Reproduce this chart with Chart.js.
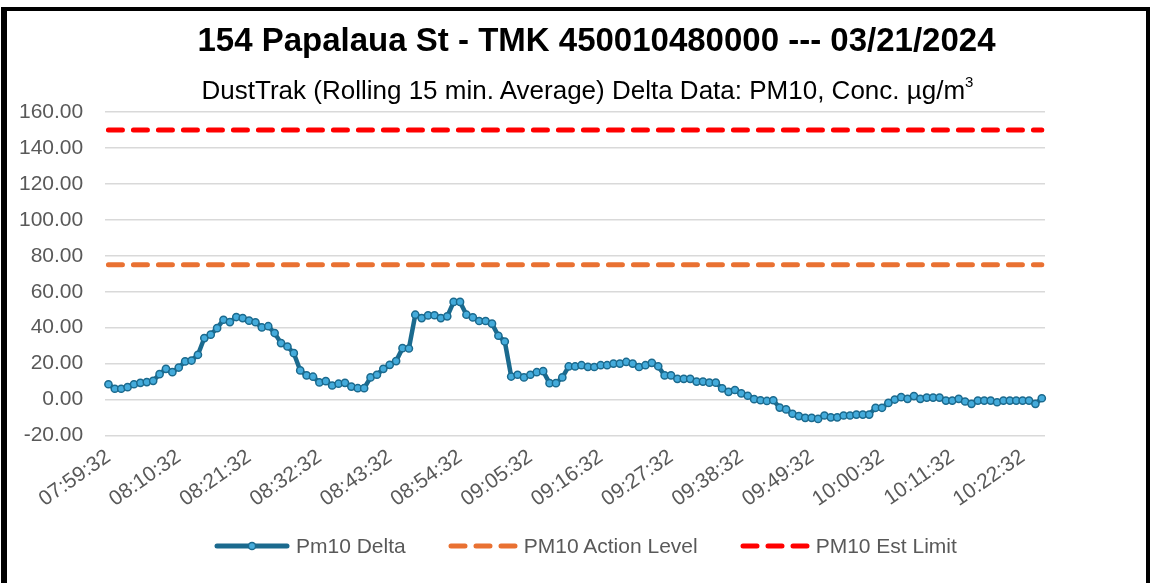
<!DOCTYPE html>
<html>
<head>
<meta charset="utf-8">
<script src="https://cdn.jsdelivr.net/npm/chart.js@4.4.1/dist/chart.umd.min.js"></script>
<style>
  body { margin: 0; width: 1153px; height: 583px; overflow: hidden; background: #fff; position: relative; }
  #frame { position: absolute; left: 1px; top: 7px; width: 1139px; height: 600px;
           border-left: 6px solid #000; border-top: 4px solid #000; border-right: 4px solid #000; }
  #chart-wrap { position: absolute; left: 0; top: 0; width: 1153px; height: 583px; }
  .txt { position: absolute; left: 0; width: 1153px; text-align: center; color: #000;
         font-family: 'Liberation Sans', Arial, sans-serif; white-space: nowrap; }
  #title { top: 21px; left: 20px; font-size: 33px; font-weight: bold; }
  #subtitle { top: 75px; left: 11px; font-size: 26px; }
  #subtitle sup { font-size: 15px; vertical-align: 12px; line-height: 0; }
  #legend { position: absolute; top: 534px; left: 214px; display: flex; align-items: center;
            font-family: 'Liberation Sans', Arial, sans-serif; font-size: 21px; color: #595959; }
  .item { display: flex; align-items: center; margin-right: 42px; }
  .item svg { margin-right: 6px; }
</style>
</head>
<body>
<div id="frame"></div>
<div id="chart-wrap"><canvas id="chart" width="1153" height="583"></canvas></div>
<div class="txt" id="title">154 Papalaua St - TMK 450010480000 --- 03/21/2024</div>
<div class="txt" id="subtitle">DustTrak (Rolling 15 min. Average) Delta Data: PM10, Conc. µg/m<sup>3</sup></div>
<div id="legend">
  <div class="item">
    <svg width="76" height="14"><line x1="3" y1="7" x2="73" y2="7" stroke="#1B6A8E" stroke-width="5" stroke-linecap="round"/>
      <circle cx="38" cy="7" r="3.6" fill="#44ABDB" stroke="#1B6A8E" stroke-width="1.5"/></svg>
    <span>Pm10 Delta</span>
  </div>
  <div class="item">
    <svg width="70" height="14"><line x1="3" y1="7" x2="67" y2="7" stroke="#E97132" stroke-width="5" stroke-linecap="round" stroke-dasharray="14 11"/></svg>
    <span>PM10 Action Level</span>
  </div>
  <div class="item">
    <svg width="70" height="14"><line x1="3" y1="7" x2="67" y2="7" stroke="#FF0000" stroke-width="5" stroke-linecap="round" stroke-dasharray="14 11"/></svg>
    <span>PM10 Est Limit</span>
  </div>
</div>

<script>
// one reading per minute
const times = [
  '07:59:32', '08:00:32', '08:01:32', '08:02:32', '08:03:32', '08:04:32', '08:05:32', '08:06:32', '08:07:32', '08:08:32',
  '08:09:32', '08:10:32', '08:11:32', '08:12:32', '08:13:32', '08:14:32', '08:15:32', '08:16:32', '08:17:32', '08:18:32',
  '08:19:32', '08:20:32', '08:21:32', '08:22:32', '08:23:32', '08:24:32', '08:25:32', '08:26:32', '08:27:32', '08:28:32',
  '08:29:32', '08:30:32', '08:31:32', '08:32:32', '08:33:32', '08:34:32', '08:35:32', '08:36:32', '08:37:32', '08:38:32',
  '08:39:32', '08:40:32', '08:41:32', '08:42:32', '08:43:32', '08:44:32', '08:45:32', '08:46:32', '08:47:32', '08:48:32',
  '08:49:32', '08:50:32', '08:51:32', '08:52:32', '08:53:32', '08:54:32', '08:55:32', '08:56:32', '08:57:32', '08:58:32',
  '08:59:32', '09:00:32', '09:01:32', '09:02:32', '09:03:32', '09:04:32', '09:05:32', '09:06:32', '09:07:32', '09:08:32',
  '09:09:32', '09:10:32', '09:11:32', '09:12:32', '09:13:32', '09:14:32', '09:15:32', '09:16:32', '09:17:32', '09:18:32',
  '09:19:32', '09:20:32', '09:21:32', '09:22:32', '09:23:32', '09:24:32', '09:25:32', '09:26:32', '09:27:32', '09:28:32',
  '09:29:32', '09:30:32', '09:31:32', '09:32:32', '09:33:32', '09:34:32', '09:35:32', '09:36:32', '09:37:32', '09:38:32',
  '09:39:32', '09:40:32', '09:41:32', '09:42:32', '09:43:32', '09:44:32', '09:45:32', '09:46:32', '09:47:32', '09:48:32',
  '09:49:32', '09:50:32', '09:51:32', '09:52:32', '09:53:32', '09:54:32', '09:55:32', '09:56:32', '09:57:32', '09:58:32',
  '09:59:32', '10:00:32', '10:01:32', '10:02:32', '10:03:32', '10:04:32', '10:05:32', '10:06:32', '10:07:32', '10:08:32',
  '10:09:32', '10:10:32', '10:11:32', '10:12:32', '10:13:32', '10:14:32', '10:15:32', '10:16:32', '10:17:32', '10:18:32',
  '10:19:32', '10:20:32', '10:21:32', '10:22:32', '10:23:32', '10:24:32', '10:25:32'
];

const pm10Delta = [
  8.5, 6.0, 6.0, 6.9, 8.5, 9.3, 9.7, 10.4, 14.1, 17.1,
  15.2, 17.8, 21.2, 21.7, 24.9, 34.2, 36.1, 39.7, 44.4, 43.1,
  45.9, 45.3, 43.9, 43.0, 40.1, 40.8, 37.0, 31.4, 29.5, 25.8,
  16.2, 13.4, 12.7, 9.5, 10.2, 7.8, 8.8, 9.3, 7.2, 6.3,
  6.3, 12.3, 13.8, 17.1, 19.3, 21.4, 28.6, 28.4, 47.2, 45.3,
  46.8, 46.9, 45.3, 46.3, 54.3, 54.3, 47.2, 45.7, 43.7, 43.7,
  42.2, 35.5, 32.3, 12.8, 13.8, 12.3, 13.8, 15.2, 15.8, 9.1,
  9.1, 12.3, 18.4, 18.4, 19.1, 18.2, 18.1, 19.1, 19.1, 20.0,
  20.0, 20.9, 20.0, 18.1, 19.1, 20.4, 18.5, 13.4, 13.4, 11.5,
  11.5, 11.5, 10.0, 10.0, 9.4, 9.4, 6.2, 4.3, 5.3, 3.4,
  2.1, 0.2, -0.4, -0.8, -0.4, -4.5, -5.5, -7.9, -9.2, -10.2,
  -10.2, -10.8, -8.9, -9.9, -9.9, -8.9, -8.9, -8.4, -8.4, -8.4,
  -4.6, -4.6, -1.9, 0.0, 1.3, 0.4, 1.9, 0.4, 1.1, 1.1,
  1.1, -0.6, -0.6, 0.4, -1.1, -2.4, -0.6, -0.6, -0.6, -1.5,
  -0.6, -0.6, -0.6, -0.6, -0.6, -2.4, 0.7
];

const ACTION_LEVEL = 75;
const EST_LIMIT = 150;
const actionLevel = times.map(() => ACTION_LEVEL);
const estLimit = times.map(() => EST_LIMIT);

const yTicks = [-20, 0, 20, 40, 60, 80, 100, 120, 140, 160];
const LABEL_EVERY = 11;

const ctx = document.getElementById('chart').getContext('2d');

new Chart(ctx, {
  type: 'line',
  data: {
    labels: times,
    datasets: [
      {
        label: 'Pm10 Delta',
        data: pm10Delta,
        borderColor: '#1B6A8E',
        borderWidth: 4.5,
        pointRadius: 3.6,
        pointBackgroundColor: '#44ABDB',
        pointBorderColor: '#1B6A8E',
        pointBorderWidth: 1.5,
        tension: 0
      },
      {
        label: 'PM10 Action Level',
        data: actionLevel,
        borderColor: '#E97132',
        borderWidth: 5,
        borderDash: [14, 11],
        borderCapStyle: 'round',
        pointRadius: 0
      },
      {
        label: 'PM10 Est Limit',
        data: estLimit,
        borderColor: '#FF0000',
        borderWidth: 5,
        borderDash: [14, 11],
        borderCapStyle: 'round',
        pointRadius: 0
      }
    ]
  },
  options: {
    responsive: false,
    animation: false,
    layout: { padding: { top: 112, left: -3, right: 108, bottom: 70 } },
    plugins: {
      legend: { display: false },
      tooltip: { enabled: false }
    },
    scales: {
      x: {
        offset: true,
        grid: { display: false },
        border: { display: false },
        ticks: {
          autoSkip: false,
          minRotation: 35,
          maxRotation: 35,
          padding: 1,
          color: '#595959',
          font: { family: 'Liberation Sans', size: 21 },
          callback: function (val, i) {
            return i % LABEL_EVERY === 0 ? this.getLabelForValue(val) : '';
          }
        }
      },
      y: {
        min: yTicks[0],
        max: yTicks[yTicks.length - 1],
        afterBuildTicks: (scale) => { scale.ticks = yTicks.map(v => ({ value: v })); },
        grid: { color: '#D9D9D9', lineWidth: 1.5, drawTicks: false },
        border: { display: false },
        ticks: {
          padding: 22,
          color: '#595959',
          font: { family: 'Liberation Sans', size: 21 },
          callback: (v) => v.toFixed(2)
        }
      }
    }
  }
});
</script>
</body>
</html>
